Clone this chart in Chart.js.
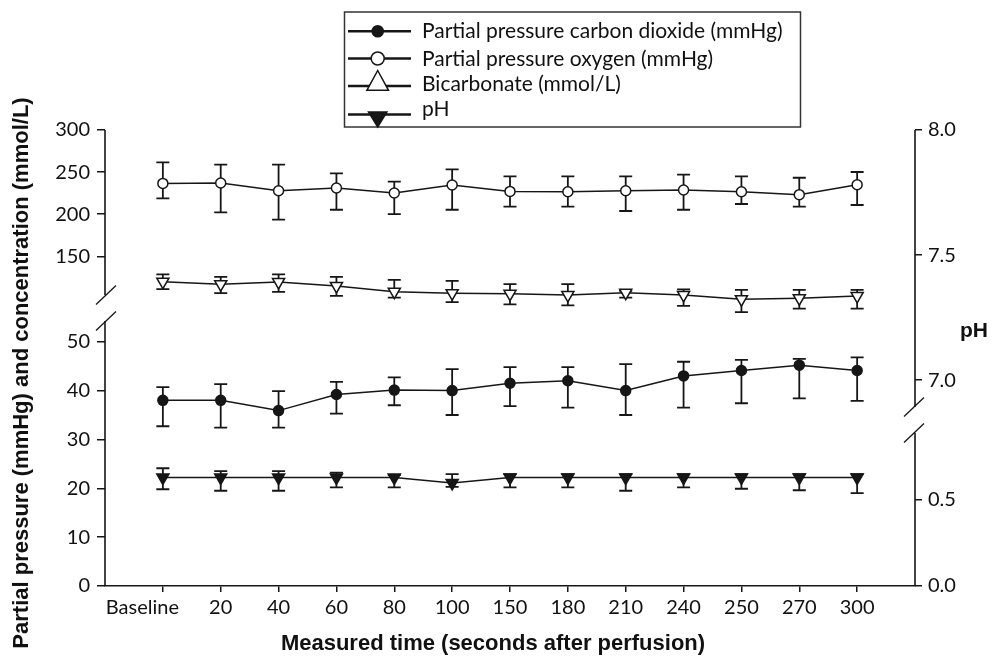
<!DOCTYPE html>
<html><head><meta charset="utf-8">
<script src="https://cdn.jsdelivr.net/npm/chart.js@4.4.1/dist/chart.umd.min.js"></script>
<style>html,body{margin:0;padding:0;background:#fff;} #wrap{width:996px;height:657px;position:relative;}</style>
</head><body><div id="wrap"><canvas id="c" width="996" height="657"></canvas></div>
<script>
const categories = ['Baseline','20','40','60','80','100','150','180','210','240','250','270','300'];
// Partial pressure CO2 (mmHg) - filled circles, lower left segment
const pco2   = [38.0,38.0,35.9,39.2,40.1,40.0,41.5,42.0,40.0,43.0,44.1,45.2,44.1];
const pco2Hi = [40.7,41.3,39.9,41.8,42.7,44.4,44.8,44.8,45.4,45.9,46.3,46.5,46.8];
const pco2Lo = [32.7,32.4,32.4,35.3,37.0,35.0,36.8,36.5,35.0,36.5,37.4,38.4,37.9];
// Partial pressure O2 (mmHg) - open circles, upper left segment
const po2   = [236.6,237.0,227.9,231.1,225.2,234.7,227.1,226.7,227.9,228.7,226.7,223.2,235.0];
const po2Hi = [261.5,258.8,258.8,248.5,238.6,253.2,244.9,244.9,244.9,246.9,244.9,243.3,250.1];
const po2Lo = [218.8,202.1,193.5,205.3,200.2,205.3,208.9,208.9,203.8,205.3,212.1,208.9,210.9];
// Bicarbonate (mmol/L) - filled down triangles, lower left segment
const bicarb   = [22.2,22.2,22.2,22.2,22.2,21.1,22.2,22.2,22.2,22.2,22.2,22.2,22.2];
const bicarbHi = [24.1,23.5,23.5,23.2,22.7,22.9,22.9,22.9,22.9,22.9,22.9,22.9,22.9];
const bicarbLo = [19.8,19.5,19.5,20.2,20.2,20.3,20.2,20.2,19.5,20.2,19.9,19.6,19.0];
// pH - open down triangles, upper right segment
const ph   = [7.394,7.384,7.393,7.377,7.354,7.348,7.346,7.341,7.350,7.341,7.324,7.328,7.337];
const phHi = [7.423,7.413,7.423,7.413,7.401,7.397,7.384,7.384,7.357,7.363,7.361,7.361,7.361];
const phLo = [7.364,7.348,7.353,7.337,7.330,7.312,7.303,7.299,7.330,7.297,7.272,7.286,7.286];

const leftLowerTicks = [0,10,20,30,40,50];
const leftUpperTicks = [150,200,250,300];
const rightLowerTicks = [0.0,0.5];
const rightUpperTicks = [7.0,7.5,8.0];
const legendLabels = ['Partial pressure carbon dioxide (mmHg)','Partial pressure oxygen (mmHg)','Bicarbonate (mmol/L)','pH'];
const xTitle = 'Measured time (seconds after perfusion)';
const yTitle = 'Partial pressure (mmHg) and concentration (mmol/L)';
const y2Title = 'pH';

const INK = '#161616';
const tickFont = {family: 'Lato', size: 20};

function pts(arr){ return arr.map((v,i)=>({x:i,y:v})); }

const errorBars = {
  id: 'errorBars',
  beforeDatasetsDraw(chart){
    const ctx = chart.ctx, xs = chart.scales.x;
    ctx.save();
    ctx.strokeStyle = INK; ctx.lineWidth = 1.8;
    chart.data.datasets.forEach(ds => {
      const ys = chart.scales[ds.yAxisID];
      ds.errHi.forEach((hi,i) => {
        const x = xs.getPixelForValue(i);
        const y1 = ys.getPixelForValue(hi), y2 = ys.getPixelForValue(ds.errLo[i]);
        ctx.beginPath();
        ctx.moveTo(x,y1); ctx.lineTo(x,y2);
        ctx.moveTo(x-6.5,y1); ctx.lineTo(x+6.5,y1);
        ctx.moveTo(x-6.5,y2); ctx.lineTo(x+6.5,y2);
        ctx.stroke();
      });
    });
    ctx.restore();
  }
};

function slash(ctx, x, y){
  ctx.beginPath(); ctx.moveTo(x-10, y+9.5); ctx.lineTo(x+10, y-9.5); ctx.stroke();
}

const brokenAxes = {
  id: 'brokenAxes',
  afterDraw(chart){
    const ctx = chart.ctx, s = chart.scales;
    ctx.save();
    ctx.strokeStyle = INK; ctx.lineWidth = 1.6;
    // left
    const lx = s.yL.left + s.yL.width;
    const lb = s.yL.top;
    ctx.beginPath();
    ctx.moveTo(lx, s.yU.top); ctx.lineTo(lx, lb-13);
    ctx.moveTo(lx, lb+13); ctx.lineTo(lx, s.yL.bottom);
    ctx.stroke();
    ctx.lineWidth = 1.3;
    slash(ctx, lx+1, lb-13); slash(ctx, lx+1, lb+13);
    // right
    ctx.lineWidth = 1.6;
    const rx = s.rL.left;
    const rb = s.rL.top;
    ctx.beginPath();
    ctx.moveTo(rx, s.rU.top); ctx.lineTo(rx, rb-13);
    ctx.moveTo(rx, rb+13); ctx.lineTo(rx, s.rL.bottom);
    ctx.stroke();
    ctx.lineWidth = 1.3;
    slash(ctx, rx-1, rb-13); slash(ctx, rx-1, rb+13);

    // titles
    ctx.fillStyle = '#111';
    ctx.font = 'bold 22px "Liberation Sans", Arial, sans-serif';
    ctx.textAlign = 'center'; ctx.textBaseline = 'middle';
    ctx.fillText(xTitle, 493, 644);
    ctx.save();
    ctx.translate(22, 373); ctx.rotate(-Math.PI/2);
    ctx.fillText(yTitle, 0, 0);
    ctx.restore();
    ctx.font = 'bold 21px "Liberation Sans", Arial, sans-serif';
    ctx.textBaseline = 'alphabetic';
    ctx.fillText(y2Title, 974, 337);

    // legend
    ctx.lineWidth = 1.5; ctx.strokeStyle = '#333';
    ctx.strokeRect(344.5, 12, 456, 115);
    const rows = [
      {ly:31.3, ty:31},
      {ly:58.5, ty:59},
      {ly:86, ty:84},
      {ly:114.5, ty:109}
    ];
    const mx = 377.7;
    ctx.strokeStyle = INK;
    rows.forEach((r,i) => {
      ctx.lineWidth = 2.6;
      ctx.beginPath(); ctx.moveTo(348, r.ly); ctx.lineTo(411, r.ly); ctx.stroke();
      ctx.lineWidth = 1.5;
      ctx.beginPath();
      if (i === 0) { ctx.arc(mx, r.ly, 6.3, 0, Math.PI*2); ctx.fillStyle = INK; ctx.fill(); }
      else if (i === 1) { ctx.arc(mx, r.ly, 6.5, 0, Math.PI*2); ctx.fillStyle = '#fff'; ctx.fill(); ctx.stroke(); }
      else if (i === 2) { ctx.moveTo(mx, 70.5); ctx.lineTo(mx+10.8, 90.3); ctx.lineTo(mx-10.8, 90.3); ctx.closePath(); ctx.fillStyle = '#fff'; ctx.fill(); ctx.stroke(); }
      else { ctx.moveTo(mx-9.2, 112); ctx.lineTo(mx+9.2, 112); ctx.lineTo(mx, 127); ctx.closePath(); ctx.fillStyle = INK; ctx.fill(); ctx.stroke(); }
      ctx.fillStyle = '#111';
      ctx.font = '21px Lato, sans-serif';
      ctx.textAlign = 'left'; ctx.textBaseline = 'middle';
      ctx.fillText(legendLabels[i], 422, r.ty);
    });
    ctx.restore();
  }
};

function yAxis(opts){
  return Object.assign({
    type: 'linear',
    ticks: {font: tickFont, color: '#111', padding: 7},
    grid: {display: true, drawOnChartArea: false, drawTicks: true, tickLength: 8, color: INK, lineWidth: 1.5},
    border: {display: false}
  }, opts);
}

const baseLine = {borderColor: INK, borderWidth: 1.5, tension: 0, pointBorderColor: INK, pointBorderWidth: 1.5, fill: false};

new Chart(document.getElementById('c'), {
  type: 'line',
  data: {
    datasets: [
      Object.assign({label: legendLabels[0], yAxisID: 'yL', data: pts(pco2), errHi: pco2Hi, errLo: pco2Lo,
        pointStyle: 'circle', pointRadius: 5, pointBackgroundColor: INK}, baseLine),
      Object.assign({label: legendLabels[1], yAxisID: 'yU', data: pts(po2), errHi: po2Hi, errLo: po2Lo,
        pointStyle: 'circle', pointRadius: 5, pointBackgroundColor: '#fff'}, baseLine),
      Object.assign({label: legendLabels[2], yAxisID: 'yL', data: pts(bicarb), errHi: bicarbHi, errLo: bicarbLo,
        pointStyle: 'triangle', pointRotation: 180, pointRadius: 7, pointBackgroundColor: INK}, baseLine),
      Object.assign({label: legendLabels[3], yAxisID: 'rU', data: pts(ph), errHi: phHi, errLo: phLo,
        pointStyle: 'triangle', pointRotation: 180, pointRadius: 7, pointBackgroundColor: '#fff'}, baseLine)
    ]
  },
  options: {
    responsive: false, animation: false, devicePixelRatio: 1,
    layout: {padding: {left: 45, right: 0, top: 130, bottom: 0}},
    plugins: {legend: {display: false}, tooltip: {enabled: false}},
    scales: {
      x: {
        type: 'linear', min: -1, max: 13,
        afterBuildTicks: s => { s.ticks = categories.map((c,i)=>({value:i})); },
        afterFit: s => { s.height = 71; },
        ticks: {font: tickFont, color: '#111', padding: 4, maxRotation: 0, autoSkip: false,
          // the first label sits left of its tick in the reference: trailing spaces shift it
          callback: v => v === 0 ? categories[0] + '        ' : categories[v]},
        grid: {display: true, drawOnChartArea: false, drawTicks: true, tickLength: 6, color: INK, lineWidth: 1.5},
        border: {display: true, color: INK, width: 1.6}
      },
      yL: yAxis({position: 'left', stack: 'left', stackWeight: 278, weight: 0, min: 0, max: 56.9,
        afterBuildTicks: s => { s.ticks = leftLowerTicks.map(v=>({value:v})); },
        afterFit: s => { s.width = 60; }}),
      yU: yAxis({position: 'left', stack: 'left', stackWeight: 178, weight: 1, min: 88.6, max: 300,
        afterBuildTicks: s => { s.ticks = leftUpperTicks.map(v=>({value:v})); },
        afterFit: s => { s.width = 60; }}),
      rU: yAxis({position: 'right', stack: 'right', stackWeight: 290, weight: 0, min: 6.841, max: 8.0,
        afterBuildTicks: s => { s.ticks = rightUpperTicks.map(v=>({value:v})); },
        afterFit: s => { s.width = 81; },
        ticks: {font: tickFont, color: '#111', padding: 6, callback: v => Number(v).toFixed(1)},
        grid: {display: true, drawOnChartArea: false, drawTicks: true, tickLength: 7, color: INK, lineWidth: 1.5}}),
      rL: yAxis({position: 'right', stack: 'right', stackWeight: 166, weight: 1, min: 0, max: 0.965,
        afterBuildTicks: s => { s.ticks = rightLowerTicks.map(v=>({value:v})); },
        afterFit: s => { s.width = 81; },
        ticks: {font: tickFont, color: '#111', padding: 6, callback: v => Number(v).toFixed(1)},
        grid: {display: true, drawOnChartArea: false, drawTicks: true, tickLength: 7, color: INK, lineWidth: 1.5}})
    }
  },
  plugins: [errorBars, brokenAxes]
});
</script>
</body></html>
